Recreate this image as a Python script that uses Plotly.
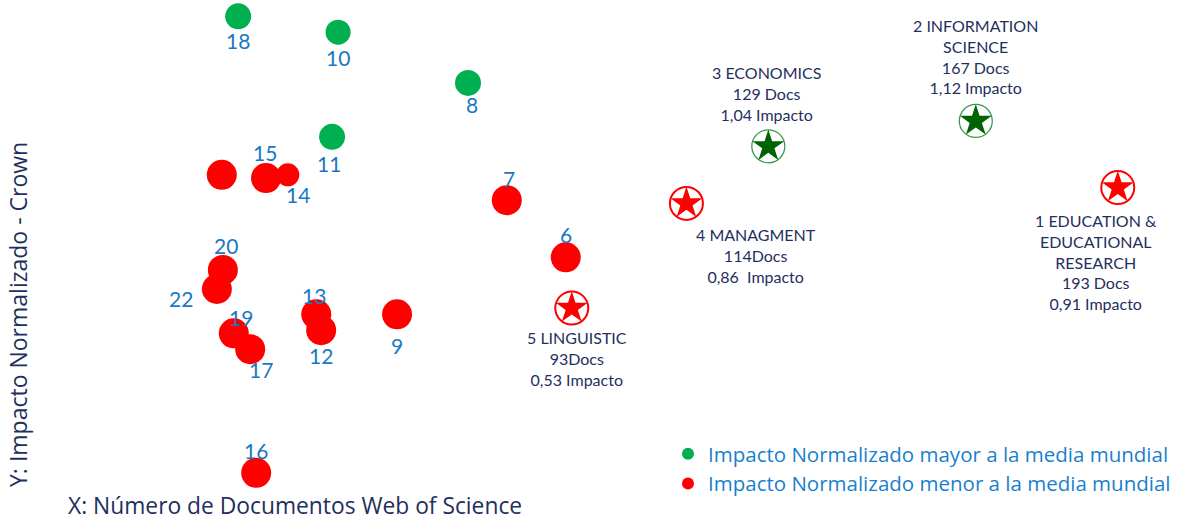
import plotly.graph_objects as go

# ---- data ----
# small dots: number of WoS documents (x) and normalized impact (y)
dot_labels = ["18", "10", "8", "11", "", "15", "14", "7", "6", "20", "22", "13", "12", "9", "19", "17", "16"]
dot_docs = [31.9, 50.2, 74.0, 49.1, 28.9, 37.0, 41.0, 81.1, 91.9, 29.1, 28.0, 46.2, 47.1, 61.0, 31.1, 34.1, 35.2]
dot_impact = [1.45, 1.40, 1.24, 1.07, 0.95, 0.94, 0.95, 0.87, 0.69, 0.65, 0.59, 0.51, 0.46, 0.51, 0.45, 0.40, 0.01]

# main categories (stars)
cat_names = ["1 EDUCATION &<br>EDUCATIONAL<br>RESEARCH", "2 INFORMATION<br>SCIENCE", "3 ECONOMICS", "4 MANAGMENT", "5 LINGUISTIC"]
cat_docs = [193, 167, 129, 114, 93]
cat_docs_text = ["193 Docs", "167 Docs", "129 Docs", "114Docs", "93Docs"]
cat_impact = [0.91, 1.12, 1.04, 0.86, 0.53]
cat_impact_text = ["0,91 Impacto", "1,12 Impacto", "1,04 Impacto", "0,86  Impacto", "0,53 Impacto"]

world_mean = 1.0
legend_above = "Impacto Normalizado mayor a la media mundial"
legend_below = "Impacto Normalizado menor a la media mundial"
x_title = "X: Número de Documentos Web of Science"
y_title = "Y: Impacto Normalizado - Crown"

# ---- styles ----
GREEN = "#00b050"
RED = "#ff0000"
DKGREEN = "#006400"
NAVY = "#1f2f5e"
BLUE = "#1a78c2"
LEG_BLUE = "#1a7fcc"

dot_size_style = {"14": 23, "18": 26, "10": 25, "8": 26, "11": 26}
label_offset = {  # (xshift, yshift) in px
    "18": (0, -24), "10": (0, -25), "8": (4, -22), "11": (-3, -27),
    "15": (-1, 26), "14": (10, -20), "7": (2, 22), "6": (0, 23),
    "20": (3, 24), "22": (-36, -10), "13": (-2, 19), "12": (0, -25),
    "9": (0, -31), "19": (7, 16), "17": (11, -20), "16": (0, 22),
}
cat_label_style = [  # xshift, yshift, xanchor, yanchor
    (-22, -21, "center", "top"),
    (0, 22, "center", "bottom"),
    (-2, 20, "center", "bottom"),
    (70, -20, "center", "top"),
    (5, -18, "center", "top"),
]

fig = go.Figure()

hi = [i for i, v in enumerate(dot_impact) if v >= world_mean]
lo = [i for i, v in enumerate(dot_impact) if v < world_mean]

for idx, color, name in [(hi, GREEN, legend_above), (lo, RED, legend_below)]:
    fig.add_trace(go.Scatter(
        x=[dot_docs[i] for i in idx], y=[dot_impact[i] for i in idx],
        mode="markers", name=name,
        marker=dict(color=color, opacity=1,
                    size=[dot_size_style.get(dot_labels[i], 30) for i in idx],
                    line=dict(width=0)),
        hoverinfo="skip",
    ))

cat_hi = [i for i, v in enumerate(cat_impact) if v >= world_mean]
cat_lo = [i for i, v in enumerate(cat_impact) if v < world_mean]
for idx, ring, fill, lw in [(cat_hi, "#3a9a50", DKGREEN, 1.3), (cat_lo, RED, RED, 2)]:
    xs = [cat_docs[i] for i in idx]
    ys = [cat_impact[i] for i in idx]
    fig.add_trace(go.Scatter(x=xs, y=ys, mode="markers", showlegend=False, hoverinfo="skip",
                             marker=dict(symbol="circle", size=33, color="white", opacity=1,
                                         line=dict(color=ring, width=lw))))
    fig.add_trace(go.Scatter(x=xs, y=ys, mode="markers", showlegend=False, hoverinfo="skip",
                             marker=dict(symbol="star", size=24, color=fill, opacity=1,
                                         line=dict(width=0))))

for i, lab in enumerate(dot_labels):
    if not lab:
        continue
    xs, ys = label_offset[lab]
    fig.add_annotation(x=dot_docs[i], y=dot_impact[i], text=lab, showarrow=False,
                       xshift=xs, yshift=ys, font=dict(family="Lato", size=21, color=BLUE))

for i in range(len(cat_names)):
    xs, ys, xa, ya = cat_label_style[i]
    fig.add_annotation(x=cat_docs[i], y=cat_impact[i],
                       text=f"{cat_names[i]}<br>{cat_docs_text[i]}<br>{cat_impact_text[i]}",
                       showarrow=False, xshift=xs, yshift=ys, xanchor=xa, yanchor=ya,
                       align="center", font=dict(family="Lato", size=16, color=NAVY))

fig.add_annotation(xref="paper", yref="paper", x=66 / 1177, y=1 - 505 / 522, text=x_title,
                   showarrow=False, xanchor="left", yanchor="middle",
                   font=dict(family="Open Sans", size=22.8, color=NAVY))
fig.add_annotation(xref="paper", yref="paper", x=18 / 1177, y=1 - 315 / 522, text=y_title,
                   showarrow=False, textangle=-90, xanchor="center", yanchor="middle",
                   font=dict(family="Open Sans", size=23, color=NAVY))

fig.update_layout(
    width=1177, height=522,
    margin=dict(l=0, r=0, t=0, b=0),
    paper_bgcolor="white", plot_bgcolor="white",
    xaxis=dict(range=[-11.72, 203.85], visible=False, fixedrange=True),
    yaxis=dict(range=[-0.145, 1.5016], visible=False, fixedrange=True),
    showlegend=True,
    legend=dict(x=668 / 1177, y=1 - 434 / 522, xanchor="left", yanchor="top",
                font=dict(family="Open Sans", size=20.5, color=LEG_BLUE),
                itemsizing="constant", bgcolor="rgba(0,0,0,0)", tracegroupgap=0,
                itemwidth=30),
)

fig.write_html("out.html", config={"displayModeBar": False},
               post_script="document.body.style.margin='0px';")
